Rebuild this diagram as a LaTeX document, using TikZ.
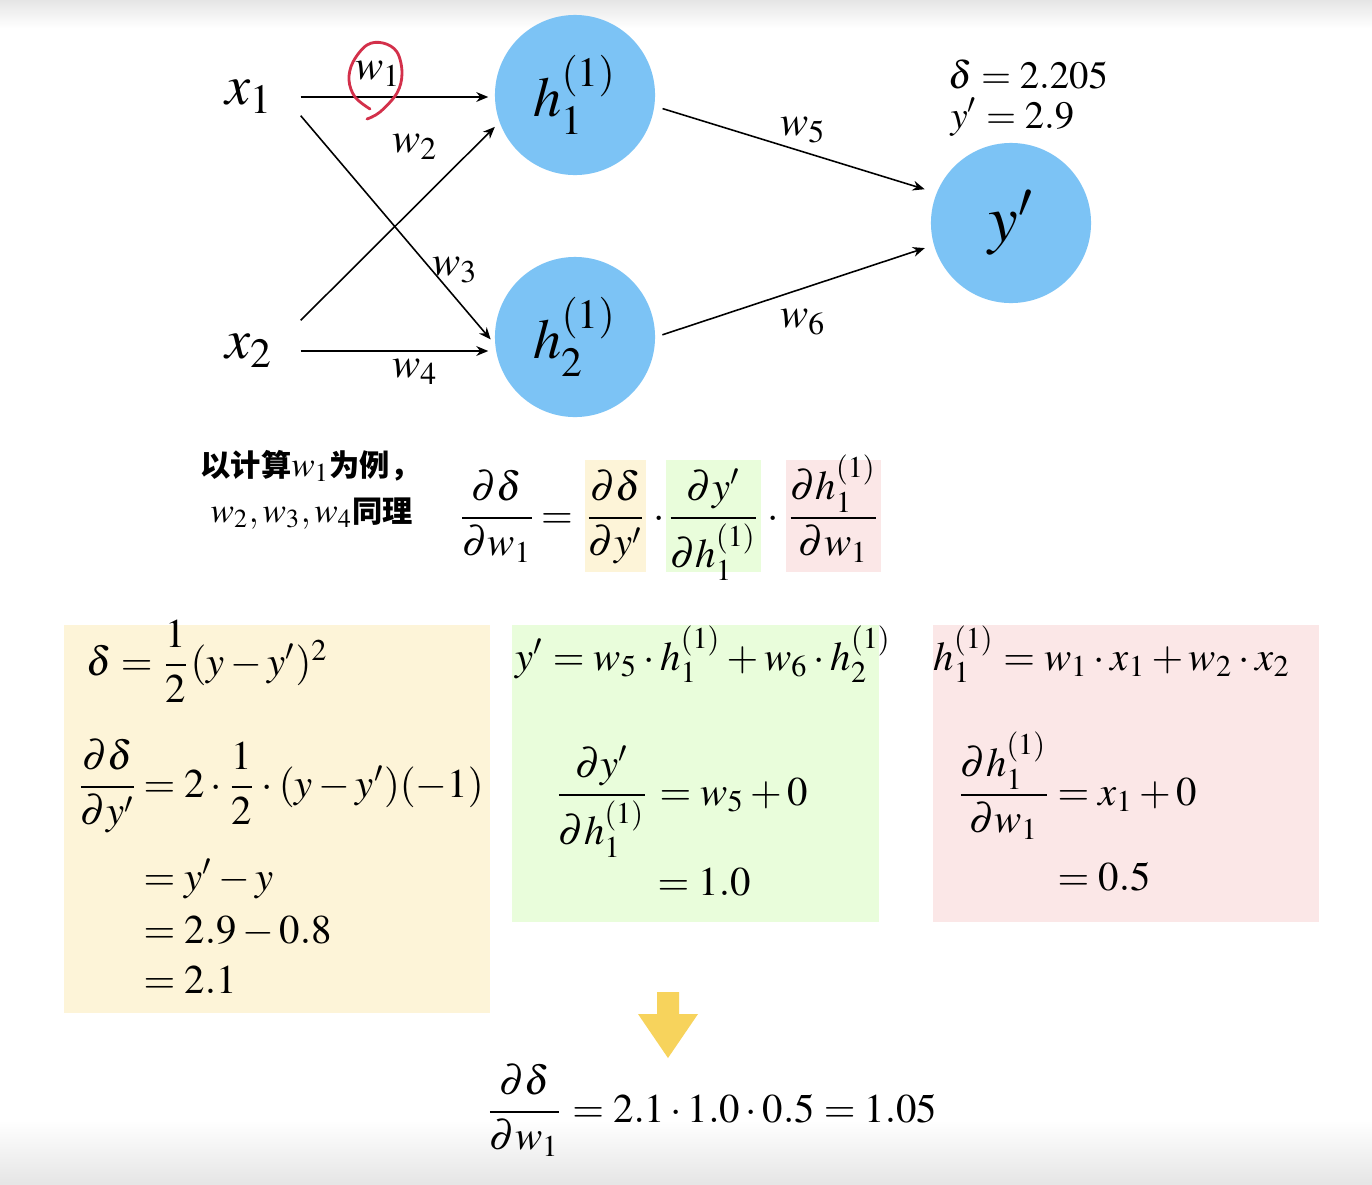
\documentclass[tikz,border=0pt]{standalone}
\usepackage{amsmath}
\usepackage{mathptmx}
\usepackage{fontspec}
\setmainfont{Liberation Serif}
\newfontfamily\cjk{Noto Sans CJK SC}
\usepackage{xcolor}
\usepackage{tikz}
\usetikzlibrary{arrows.meta}
\definecolor{nodeblue}{HTML}{7CC3F5}
\definecolor{boxyellow}{HTML}{FDF4D8}
\definecolor{boxgreen}{HTML}{E9FDDB}
\definecolor{boxpink}{HTML}{FBE7E7}
\definecolor{arrowgold}{HTML}{F7D35C}
\definecolor{penred}{HTML}{D3304A}
\newcommand\zh[1]{{\cjk\bfseries\fontsize{8.6}{10}\selectfont #1}}
\tikzset{
  neuron/.style={circle, fill=nodeblue, minimum size=1.6cm, inner sep=0pt, font=\fontsize{16}{18}\selectfont},
  inp/.style={minimum width=1.02cm, inner sep=0pt, font=\fontsize{16}{18}\selectfont},
  wire/.style={draw=black, line width=0.45pt, shorten >=0.06cm, -{Stealth[length=3.4pt,width=2.8pt]}},
  wlab/.style={font=\fontsize{12}{14}\selectfont},
  eq/.style={inner sep=0pt, anchor=base west},
  hl/.style={inner sep=0pt, anchor=base, text height=0.675cm, text depth=0.435cm},
  boxY/.style={fill=boxyellow},
  boxG/.style={fill=boxgreen},
  boxP/.style={fill=boxpink}
}

\begin{document}
\begin{tikzpicture}[x=0.01cm, y=-0.01cm, font=\fontsize{11.6}{14}\selectfont]
  \useasboundingbox (0,0) rectangle (1372,1184);
  \fill[white] (0,0) rectangle (1372,1184);
  \fill[top color=black!10, bottom color=white] (0,0) rectangle (1372,28);
  \fill[top color=white, bottom color=black!10] (0,1120) rectangle (1372,1184);

  % network
  \node[inp, minimum height=0.36cm] (x1) at (249,97) {$x_1$};
  \node[inp, minimum height=0.6cm] (x2) at (249,351) {$x_2$};
  \node[neuron] (h1) at (575,95) {$h_1^{(1)}$};
  \node[neuron] (h2) at (575,337) {$h_2^{(1)}$};
  \node[neuron, font=\fontsize{19}{21}\selectfont] (yp) at (1011,223) {$y'$};

  \draw[wire] (x1.east) -- (h1.west |- x1.east);
  \draw[wire] (x1.south east) -- (h2.185);
  \draw[wire] (x2.north east) -- (h1.200);
  \draw[wire] (x2.east) -- (h2.west |- x2.east);
  \draw[wire, shorten <=0.08cm, shorten >=0.12cm] (h1.-8) -- (yp.158);
  \draw[wire, shorten <=0.07cm, shorten >=0.09cm] (h2.0) -- (yp.196);

  \node[wlab] (w1) at (378,74) {$w_1$};
  \node[wlab] (w2) at (415,147) {$w_2$};
  \node[wlab] (w3) at (455,270) {$w_3$};
  \node[wlab] (w4) at (415,372) {$w_4$};
  \node[wlab] (w5) at (803,130) {$w_5$};
  \node[wlab] (w6) at (803,322) {$w_6$};

  \draw[penred, line width=0.8pt, line cap=round] plot[smooth, tension=0.6] coordinates {(367,119) (380,112) (397,93) (402,73) (397,52) (383,43) (367,45) (353,62) (349,80) (355,97) (370,109)};

  \node[eq, font=\fontsize{11}{13}\selectfont] (lossval) at (948,88) {$\delta = 2.205$};
  \node[eq, font=\fontsize{11}{13}\selectfont] (predval) at (950,128) {$y' = 2.9$};

  % chain rule
  \node[eq, font=\fontsize{10}{12}\selectfont] (note1) at (200,476) {\zh{以计算}$w_1$\zh{为例，}};
  \node[eq, font=\fontsize{10}{12}\selectfont] (note2) at (210,522) {$w_2, w_3, w_4$\zh{同理}};

  \node[anchor=base, inner sep=0pt] (lhs) at (497,528) {$\dfrac{\partial\delta}{\partial w_1}$};
  \node[anchor=base, inner sep=0pt] (eqs) at (557,528) {$=$};
  \node[hl, boxY, minimum width=0.59cm] (fy) at (615.5,528) {$\dfrac{\partial\delta}{\partial y'}$};
  \node[anchor=base, inner sep=0pt] (dot1) at (659,528) {$\cdot$};
  \node[hl, boxG, minimum width=0.77cm] (fg) at (713.5,528) {$\dfrac{\partial y'}{\partial h_1^{(1)}}$};
  \node[anchor=base, inner sep=0pt] (dot2) at (773,528) {$\cdot$};
  \node[hl, boxP, minimum width=0.77cm] (fp) at (833.5,528) {$\dfrac{\partial h_1^{(1)}}{\partial w_1}$};

  % boxes
  \fill[boxY] (64,625) rectangle (490,1013);
  \fill[boxG] (512,625) rectangle (879,922);
  \fill[boxP] (933,625) rectangle (1319,922);

  \node[eq] (loss) at (86,675) {$\delta = \dfrac{1}{2}(y-y')^2$};
  \node[eq] (dlossf) at (76,797) {$\dfrac{\partial\delta}{\partial y'}$};
  \node[eq] (dlossr) at (143,797) {$= 2\cdot\dfrac{1}{2}\cdot(y-y')(-1)$};
  \node[eq] (dl1) at (143,890) {$= y'-y$};
  \node[eq] (dl2) at (143,943) {$= 2.9-0.8$};
  \node[eq] (dl3) at (143,993) {$= 2.1$};

  \node[eq] (pred) at (515,670) {$y' = w_5\cdot h_1^{(1)} + w_6\cdot h_2^{(1)}$};
  \node[eq] (dpredf) at (554,805) {$\dfrac{\partial y'}{\partial h_1^{(1)}}$};
  \node[eq] (dpredr) at (659,805) {$= w_5+0$};
  \node[eq] (dp1) at (657,895) {$= 1.0$};

  \node[eq] (hid) at (933,670) {$h_1^{(1)} = w_1\cdot x_1 + w_2\cdot x_2$};
  \node[eq] (dhidf) at (956,805) {$\dfrac{\partial h_1^{(1)}}{\partial w_1}$};
  \node[eq] (dhidr) at (1057,805) {$= x_1+0$};
  \node[eq] (dh1) at (1057,890) {$= 0.5$};

  % result
  \fill[arrowgold] (657,992) -- (679,992) -- (679,1014) -- (698,1014) -- (668,1058) -- (638,1014) -- (657,1014) -- cycle;
  \node[eq] (grad) at (485,1122) {$\dfrac{\partial\delta}{\partial w_1} = 2.1\cdot 1.0\cdot 0.5 = 1.05$};
\end{tikzpicture}
\end{document}
